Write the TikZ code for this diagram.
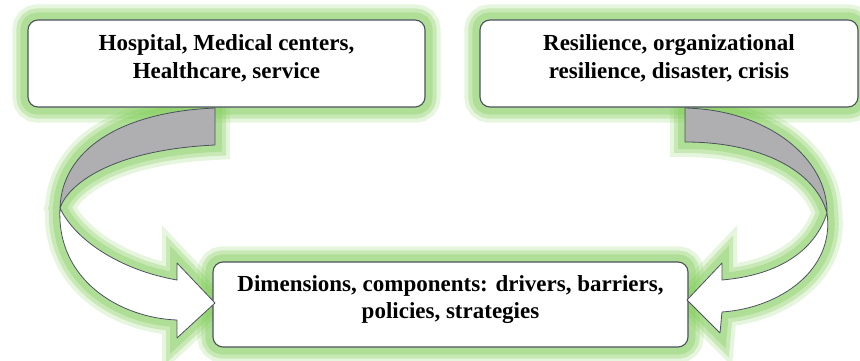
\documentclass[tikz,border=0pt]{standalone}
\usepackage{fontspec}
\setmainfont{Liberation Serif}
\definecolor{glowgreen}{RGB}{130,205,90}
\definecolor{boxline}{RGB}{75,82,92}
\definecolor{ribbongray}{RGB}{175,175,178}
\pgfdeclarelayer{glowlayer}
\pgfsetlayers{glowlayer,main}
\tikzset{
  glow/.style={
    preaction={draw=glowgreen,line width=30pt,opacity=.2},
    preaction={draw=glowgreen,line width=22pt,opacity=.3},
    preaction={draw=glowgreen,line width=14pt,opacity=.35}},
  topic/.style={draw=boxline,fill=white,rounded corners=10pt,line width=1.1pt,inner sep=0pt},
  topictext/.style={font=\bfseries\fontsize{23}{27.5}\selectfont,align=center},
  ribbon/.style={draw=boxline,line width=0.8pt,line join=round}
}
\begin{document}
\begin{tikzpicture}[x=1pt,y=-1pt]
  \useasboundingbox (0,0) rectangle (860,361);

  %BOXES
  \node[topic,minimum width=397pt,minimum height=87pt] (hosp) at (226.5,63.5) {};
  \node[topictext] (hosptext) at ([yshift=5pt]hosp.center) {Hospital, Medical centers,\\Healthcare, service};
  \node[topic,minimum width=378pt,minimum height=87pt] (resil) at (669,63.5) {};
  \node[topictext] (resiltext) at ([yshift=5pt]resil.center) {Resilience, organizational\\resilience, disaster, crisis};
  \node[topic,minimum width=475pt,minimum height=85pt] (dims) at (450.5,304.5) {};
  \node[topictext] (dimstext) at ([yshift=5pt]dims.center) {Dimensions, components: drivers, barriers,\\policies, strategies};

  %LEFT RIBBON
  \draw[ribbon,fill=ribbongray] (215,108) .. controls (120,112) and (62,150) .. (60,208)
    .. controls (68,185) and (110,150) .. (215,145) -- cycle;
  \draw[ribbon,fill=white] (60,208) .. controls (56,280) and (120,318) .. (177,320)
    -- (177,338) -- (215,303) -- (177,263) -- (177,280)
    .. controls (120,270) and (75,240) .. (60,208) -- cycle;

  %RIGHT RIBBON
  \draw[ribbon,fill=ribbongray] (685,108) .. controls (770,110) and (828,160) .. (827,213)
    .. controls (815,170) and (760,142) .. (685,142) -- cycle;
  \draw[ribbon,fill=white] (827,213) .. controls (835,270) and (780,308) .. (722,312)
    -- (720,333) -- (687,300) -- (722,263) -- (722,280)
    .. controls (780,275) and (815,250) .. (827,213) -- cycle;

  %GLOW
  \begin{pgfonlayer}{glowlayer}
    \foreach \b in {hosp,resil,dims}
      \path[glow,rounded corners=10pt] (\b.north west) rectangle (\b.south east);
    \path[glow,line join=round] (215,108) .. controls (120,112) and (62,150) .. (60,208)
      .. controls (56,280) and (120,318) .. (177,320)
      -- (177,338) -- (215,303) -- (177,263) -- (177,280)
      .. controls (120,270) and (75,240) .. (60,208)
      .. controls (68,185) and (110,150) .. (215,145) -- cycle;
    \path[glow,line join=round] (685,108) .. controls (770,110) and (828,160) .. (827,213)
      .. controls (835,270) and (780,308) .. (722,312)
      -- (720,333) -- (687,300) -- (722,263) -- (722,280)
      .. controls (780,275) and (815,250) .. (827,213)
      .. controls (815,170) and (760,142) .. (685,142) -- cycle;
  \end{pgfonlayer}
\end{tikzpicture}
\end{document}
